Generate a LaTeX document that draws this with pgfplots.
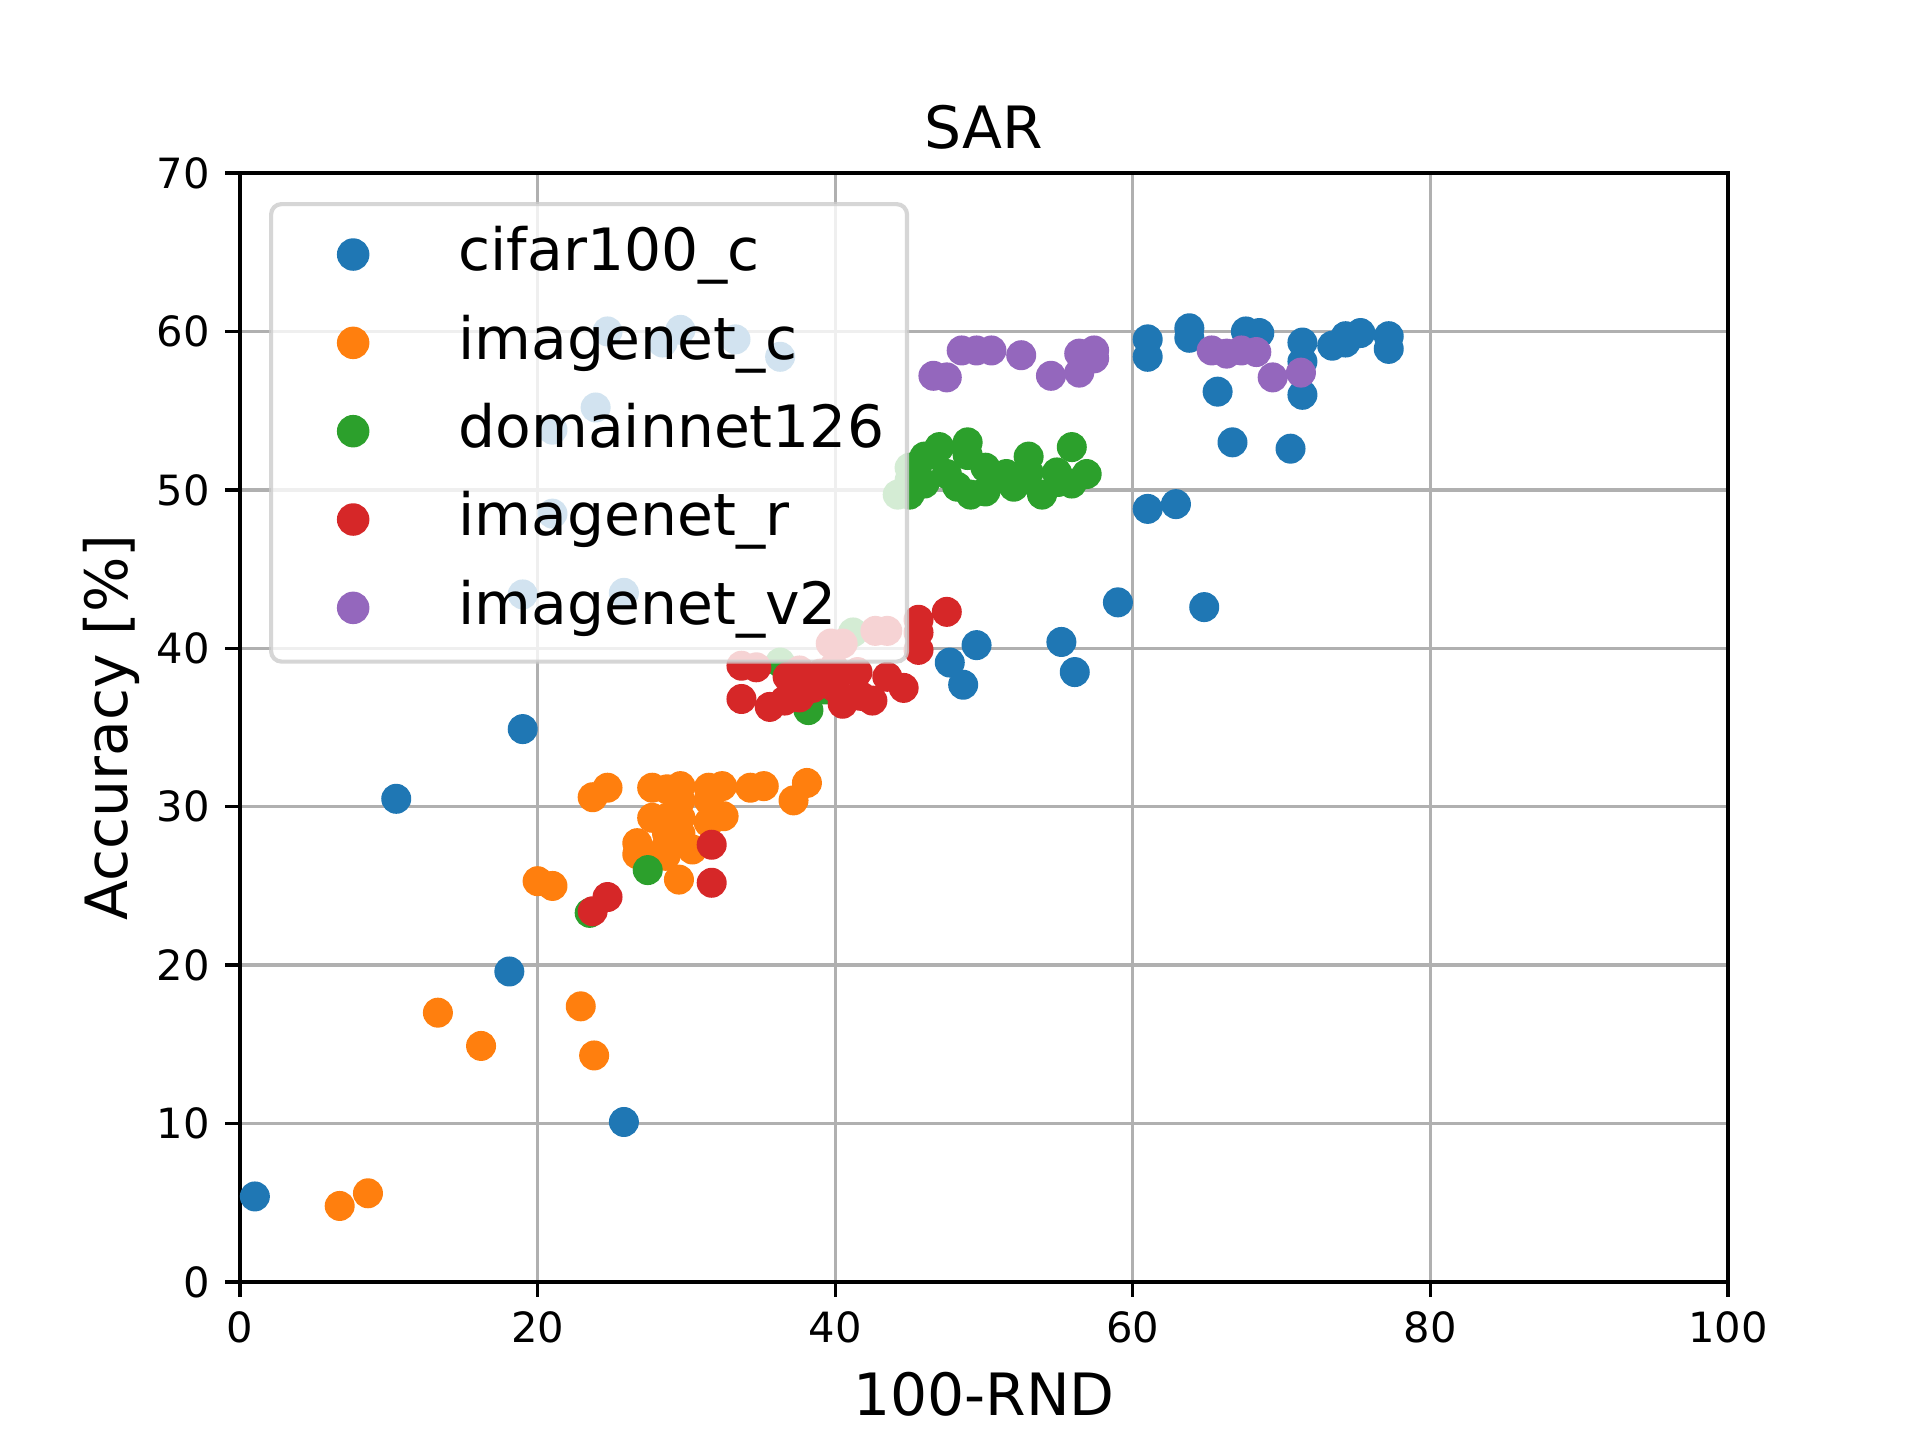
\documentclass[border=0pt]{standalone}
\usepackage{pgfplots}
\pgfplotsset{compat=1.18}
\usepackage{fontspec}
\setmainfont{DejaVu Sans}
\definecolor{c0}{HTML}{1F77B4}
\definecolor{c1}{HTML}{FF7F0E}
\definecolor{c2}{HTML}{2CA02C}
\definecolor{c3}{HTML}{D62728}
\definecolor{c4}{HTML}{9467BD}
\definecolor{gridc}{HTML}{B0B0B0}
\definecolor{legc}{HTML}{CCCCCC}
\pgfplotsset{sc/.style={only marks, mark=*, mark size=3.4pt, color=#1, mark options={fill=#1, draw=none}}}
\begin{document}
\begin{tikzpicture}
\path[use as bounding box] (0,0) rectangle (460.8pt,345.6pt);
\begin{axis}[
  at={(57.6pt,37.92pt)}, anchor=south west,
  scale only axis, width=357.12pt, height=266.16pt,
  xmin=0, xmax=100, ymin=0, ymax=70,
  xtick={0,20,...,100}, ytick={0,10,...,70},
  grid=major, major grid style={color=gridc, line width=0.8pt},
  axis line style={line width=0.8pt, black},
  major tick style={line width=0.8pt, black},
  tick align=outside, major tick length=3.5pt, tick pos=left,
  /pgf/number format/assume math mode=true,
  tick label style={font=\fontsize{10}{12}\selectfont},
  xticklabel style={anchor=north, inner sep=0pt, yshift=-3.5pt},
  yticklabel style={anchor=east, inner sep=0pt, xshift=-3.5pt},
  xlabel={100-RND}, ylabel={Accuracy [\%]}, title={SAR},
  label style={font=\fontsize{14}{17}\selectfont},
  xlabel style={at={([yshift=-32.1pt]axis description cs:0.5,0)}, anchor=base},
  ylabel style={at={([xshift=-27pt]axis description cs:0,0.5)}, anchor=base},
  title style={at={(axis description cs:0.5,1)}, anchor=base, font=\fontsize{14}{17}\selectfont},
  legend cell align=left,
  legend image code/.code={\path[draw=none,fill=none] (0pt,0.4pt) -- (26.2pt,0.4pt); \draw[#1, fill opacity=1, draw opacity=1] plot coordinates {(14.2pt,0.4pt)};},
  legend style={at={([xshift=6.96pt,yshift=-6.96pt]axis description cs:0,1)}, anchor=north west,
    draw=legc, line width=1pt, rounded corners=2.5pt, fill=white, fill opacity=0.8, draw opacity=0.8, text opacity=1,
    font=\fontsize{14}{17}\selectfont, inner xsep=5.5pt, inner ysep=5.5pt, row sep=7.2pt, column sep=13.3pt,
    nodes={inner sep=0pt, text height=10.5pt, text depth=3.5pt}},
]
\addplot[sc=c0] coordinates {
(1.0,5.4) (10.5,30.5) (19.0,34.9) (18.1,19.6) (25.8,10.1)
(59.0,42.9) (64.8,42.6) (55.2,40.4) (56.1,38.5) (49.5,40.2) (47.7,39.1) (48.6,37.7)
(61.0,48.8) (62.9,49.1) (66.7,53.0) (70.6,52.6) (65.7,56.2) (71.4,56.0)
(61.0,59.5) (61.0,58.4) (63.8,60.2) (63.8,59.6) (67.6,60.0) (68.5,59.9)
(71.4,59.3) (71.4,58.1) (73.4,59.1) (74.3,59.7) (75.3,59.9) (74.3,59.3) (77.2,59.7) (77.2,58.9)
(24.7,60.0) (29.6,60.1) (28.4,59.3) (33.3,59.5) (36.3,58.4) (23.9,55.2) (21.0,53.8) (21.0,48.5) (19.0,43.4) (25.8,43.5)
};
\addlegendentry{cifar100\_c}
\addplot[sc=c1] coordinates {
(6.7,4.8) (8.6,5.6) (13.3,17.0) (16.2,14.9) (22.9,17.4) (23.8,14.3) (20.0,25.3) (21.0,25.0)
(23.7,30.6) (24.7,31.2) (27.7,31.2) (28.7,31.1) (29.6,31.3) (29.6,30.4) (31.5,31.2) (32.4,31.3) (31.5,30.4)
(34.3,31.2) (35.2,31.3) (37.2,30.4) (38.1,31.5)
(27.7,29.3) (28.7,29.3) (29.6,29.3) (31.5,29.0) (32.5,29.4) (26.7,27.7) (26.7,27.0) (28.6,27.4)
(28.7,28.3) (29.6,28.3) (30.4,27.3) (29.5,25.4) (28.6,26.9)
};
\addlegendentry{imagenet\_c}
\addplot[sc=c2] coordinates {
(27.4,26.0) (23.5,23.3) (36.3,39.1) (41.2,41.0) (38.2,36.1) (39.3,37.4)
(44.2,49.7) (45.0,51.4) (45.0,49.7) (46.0,52.1) (47.0,52.7) (46.0,50.4) (48.9,53.0) (48.9,52.2)
(50.1,51.4) (48.2,50.2) (49.1,49.7) (50.1,49.9) (52.0,50.2) (53.0,52.1) (53.0,51.1) (53.9,49.7)
(54.9,51.1) (55.9,52.7) (55.9,50.4) (56.9,51.0) (51.5,51.0) (47.5,51.0) (45.0,50.6) (52.5,50.6) (55.0,50.5)
};
\addlegendentry{domainnet126}
\addplot[sc=c3] coordinates {
(23.7,23.4) (24.7,24.3) (31.7,27.6) (31.7,25.2)
(33.7,38.9) (34.7,38.8) (33.7,36.8) (35.6,36.3) (36.6,36.7) (37.6,36.9) (36.8,38.2) (37.6,38.6)
(39.0,38.4) (39.9,38.8) (40.5,36.5) (41.5,38.5) (41.7,37.0) (42.5,36.7) (43.5,38.2) (44.6,37.5)
(45.6,41.8) (45.6,41.0) (45.6,39.9) (47.5,42.3) (39.7,40.3) (40.5,40.3) (42.7,41.1) (43.5,41.1)
(38.5,37.5) (40.0,37.5)
};
\addlegendentry{imagenet\_r}
\addplot[sc=c4] coordinates {
(46.6,57.2) (47.5,57.1) (48.5,58.8) (49.5,58.8) (50.5,58.8) (52.5,58.5) (54.5,57.2) (56.4,57.4)
(56.4,58.6) (57.4,58.8) (57.4,58.3) (65.3,58.8) (66.3,58.6) (67.3,58.8) (68.3,58.7) (69.4,57.1) (71.3,57.4)
};
\addlegendentry{imagenet\_v2}
\end{axis}
\end{tikzpicture}
\end{document}
